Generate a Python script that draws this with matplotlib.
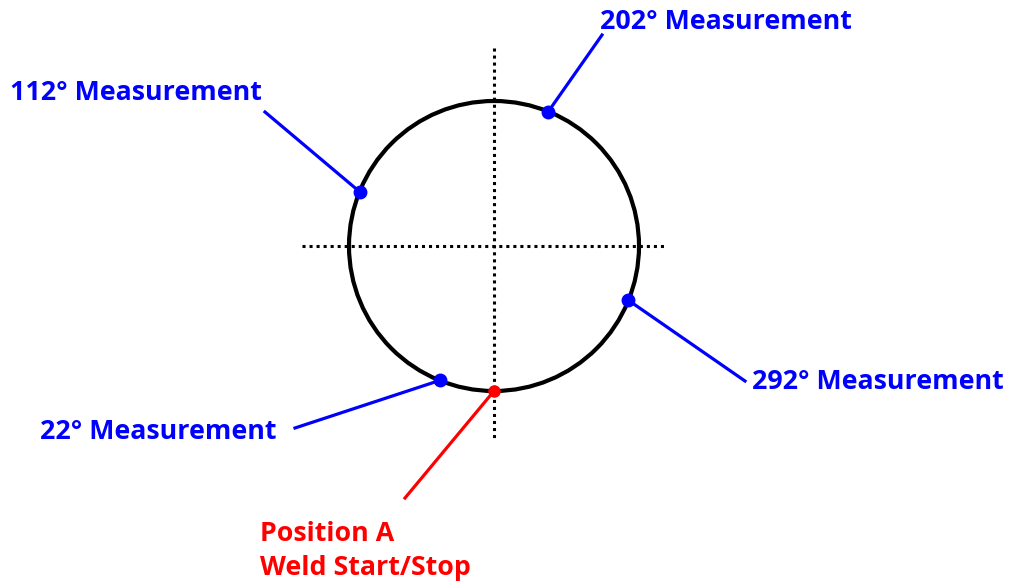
import numpy as np
import matplotlib.pyplot as plt
from matplotlib.patches import Circle

# measurement angles, counted from the bottom (Position A)
angles = [22, 112, 202, 292]
labels = ['22° Measurement', '112° Measurement', '202° Measurement', '292° Measurement']
start_label = 'Position A\nWeld Start/Stop'

# layout (pixel coords, y down)
cx, cy, r = 494, 246, 145
line_ends = [(295, 428), (265, 112), (602, 35), (745, 381)]
text_pos = [(40, 432), (10, 93), (600, 22), (752, 382)]

fig = plt.figure(figsize=(10.19, 5.85), dpi=100)
ax = fig.add_axes([0, 0, 1, 1])
ax.set_xlim(0, 1019)
ax.set_ylim(585, 0)
ax.axis('off')

# cross hairs
ax.plot([cx, cx], [48, 440], color='black', ls=(0, (1, 1.3)), lw=2.2)
ax.plot([302, 666], [cy, cy], color='black', ls=(0, (1, 1.3)), lw=2.2)

ax.add_patch(Circle((cx, cy), r, fill=False, ec='black', lw=3, zorder=3))

font = dict(family=['Open Sans', 'DejaVu Sans'], fontweight='bold', fontsize=19.3)

for ang, lab, end, tp in zip(angles, labels, line_ends, text_pos):
    t = np.radians(ang)
    px, py = cx - r * np.sin(t), cy + r * np.cos(t)
    ax.plot([px, end[0]], [py, end[1]], color='#0000ff', lw=2.3, zorder=4)
    ax.plot(px, py, 'o', color='#0000ff', ms=9, zorder=5)
    ax.text(tp[0], tp[1], lab, color='#0000ff', ha='left', va='center', **font)

# weld start/stop
ax.plot([cx, 405], [cy + r, 498], color='#ff0000', lw=2.3, zorder=4)
ax.plot(cx, cy + r, 'o', color='#ff0000', ms=8, zorder=5)
ax.text(260, 551, start_label, color='#ff0000', ha='left', va='center',
        linespacing=1.42, **font)

fig.savefig('out.png', dpi=100)
